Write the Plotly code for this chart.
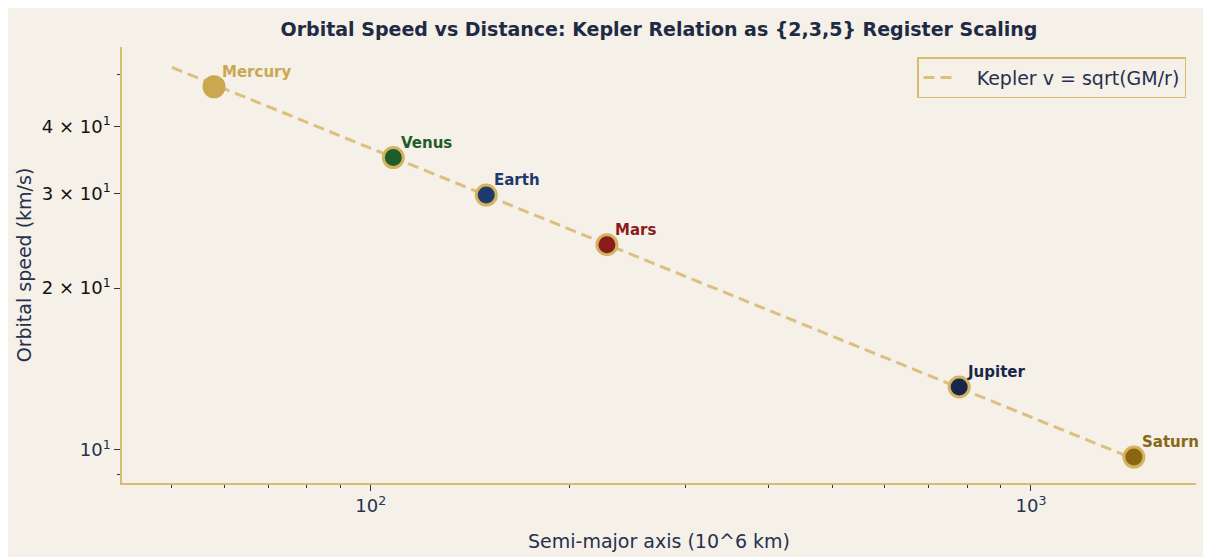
import numpy as np
import plotly.graph_objects as go

planets = ["Mercury", "Venus", "Earth", "Mars", "Jupiter", "Saturn"]
semi_major = [57.9, 108.2, 149.6, 227.9, 778.5, 1432.0]   # 10^6 km
speed = [47.4, 35.0, 29.8, 24.1, 13.1, 9.7]               # km/s
colors = ["#c9a84f", "#1e5c2b", "#1d3a6b", "#8c1c1c", "#17264a", "#8a6613"]
edge_colors = ["#c9a84f", "#d4b25e", "#d4b25e", "#d4b25e", "#d4b25e", "#d4b25e"]

kepler_r = [50.0, 1500.0]
kepler_v = [51.5, 9.4]

y_tickvals = [10, 20, 30, 40]
y_ticktext = ["10<sup>1</sup>",
              "<span style='color:#111111'>2 × 10<sup>1</sup></span>",
              "<span style='color:#111111'>3 × 10<sup>1</sup></span>",
              "<span style='color:#111111'>4 × 10<sup>1</sup></span>"]
y_minor = [9, 50]
x_tickvals = [100, 1000]
x_ticktext = ["10<sup>2</sup>", "10<sup>3</sup>"]
x_minor = [50, 60, 70, 80, 90, 200, 300, 400, 500, 600, 700, 800, 900]

navy = "#26304f"
bg = "#f5f0e8"
gold = "#d8bc72"
font = "DejaVu Sans"

W, H = 1203, 549
L, R, T, B = 114, 15, 39, 74

fig = go.Figure()
fig.add_trace(go.Scatter(
    x=kepler_r, y=kepler_v, mode="lines",
    line=dict(color="#dcc17e", width=3, dash="11px,6px"),
    name="\u00a0\u00a0\u00a0Kepler v = sqrt(GM/r)", showlegend=True))

fig.add_trace(go.Scatter(
    x=semi_major, y=speed, mode="markers",
    marker=dict(size=20, color=colors, line=dict(color=edge_colors, width=3)),
    showlegend=False, hoverinfo="text", text=planets))

for p, r, v, c in zip(planets, semi_major, speed, colors):
    fig.add_annotation(x=np.log10(r), y=np.log10(v), text="<b>%s</b>" % p,
                       showarrow=False, xanchor="left", yanchor="middle",
                       xshift=6, yshift=15,
                       font=dict(family=font, size=15, color=c))

fig.update_layout(
    width=W, height=H,
    paper_bgcolor=bg, plot_bgcolor=bg,
    margin=dict(l=L, r=R, t=T, b=B),
    font=dict(family=font, color=navy, size=16),
    title=dict(text="<b>Orbital Speed vs Distance: Kepler Relation as {2,3,5} Register Scaling</b>",
               x=(L + (W - L - R) / 2) / W, xanchor="center", y=1 - 21 / H, yanchor="middle",
               font=dict(family=font, size=19, color="#1f2a44")),
    legend=dict(x=0.9907, xanchor="right", y=0.977, yanchor="top",
                bgcolor=bg, bordercolor=gold, borderwidth=1.5,
                font=dict(family=font, size=19, color=navy)),
    showlegend=True,
)

fig.update_xaxes(type="log", range=[np.log10(42), np.log10(1778)],
                 showgrid=False, zeroline=False, automargin=False,
                 showline=True, linecolor=gold, linewidth=1.5,
                 ticks="outside", ticklen=6, tickwidth=1.2, tickcolor="#333333",
                 tickvals=x_tickvals, ticktext=x_ticktext,
                 tickfont=dict(family=font, size=18, color=navy),
                 minor=dict(tickvals=x_minor, ticks="outside", ticklen=3.5, tickwidth=1, tickcolor="#333333", showgrid=False),
                 title=dict(text="Semi-major axis (10^6 km)", font=dict(family=font, size=19, color=navy), standoff=19))
fig.update_yaxes(type="log", range=[np.log10(8.68), np.log10(56.2)],
                 showgrid=False, zeroline=False, automargin=False,
                 showline=True, linecolor=gold, linewidth=1.5,
                 ticks="outside", ticklen=6, tickwidth=1.2, tickcolor="#333333",
                 tickvals=y_tickvals, ticktext=y_ticktext,
                 tickfont=dict(family=font, size=18, color=navy),
                 minor=dict(tickvals=y_minor, ticks="outside", ticklen=3.5, tickwidth=1, tickcolor="#333333", showgrid=False),
                 title=dict(text="Orbital speed (km/s)", font=dict(family=font, size=19, color=navy), standoff=5))

fig.write_html("out.html")
